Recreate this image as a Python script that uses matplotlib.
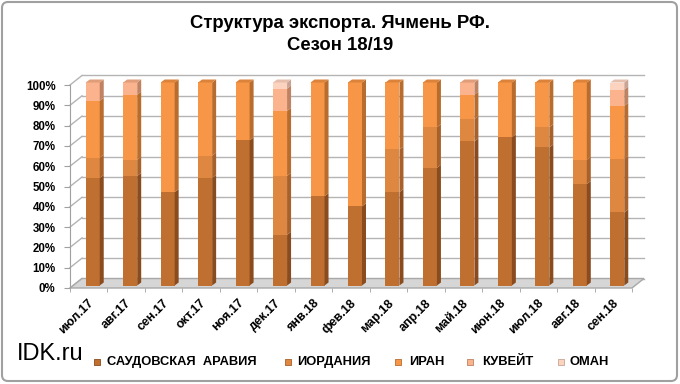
import matplotlib
matplotlib.use("Agg")
import numpy as np
import matplotlib.pyplot as plt
from matplotlib.patches import Polygon, FancyBboxPatch
from matplotlib.colors import to_rgb

plt.rcParams['font.family'] = ['Liberation Sans', 'DejaVu Sans']

months = ["июл.17", "авг.17", "сен.17", "окт.17", "ноя.17", "дек.17", "янв.18", "фев.18",
          "мар.18", "апр.18", "май.18", "июн.18", "июл.18", "авг.18", "сен.18"]
countries = ["САУДОВСКАЯ  АРАВИЯ", "ИОРДАНИЯ", "ИРАН", "КУВЕЙТ", "ОМАН"]
saudi = [53, 54, 46, 53, 71.5, 25, 44, 39, 46, 58, 71, 73, 68, 50, 36]
jordan = [10, 8, 0, 11, 0, 29, 0, 0, 21, 20, 11, 0, 10, 12, 26.5]
iran = [28, 32, 54, 36, 28.5, 32, 56, 61, 33, 22, 12, 27, 22, 38, 26]
kuwait = [9, 6, 0, 0, 0, 11, 0, 0, 0, 0, 6, 0, 0, 0, 8]
oman = [0, 0, 0, 0, 0, 3, 0, 0, 0, 0, 0, 0, 0, 0, 3.5]

front_colors = ["#bf7031", "#de8740", "#f79646", "#fab38c", "#fcd3bf"]
side_colors = ["#8a4c1e", "#a8612b", "#b86c2e", "#bf8262", "#c9a494"]

W, H = 680, 384
fig = plt.figure(figsize=(W / 100, H / 100), dpi=100)

# plot area in pixels (front plane)
x0, x1, y0, y1 = 70, 632, 288, 85
ax = fig.add_axes([x0 / W, 1 - y0 / H, (x1 - x0) / W, (y0 - y1) / H])
ax.set_xlim(-0.5, len(months) - 0.5)
ax.set_ylim(0, 100)
ax.patch.set_visible(False)

kx = (x1 - x0) / len(months)   # px per category
ky = (y0 - y1) / 100           # px per percent


def px(dx, dy):
    return dx / kx, dy / ky


fdx, fdy = px(12, 9.5)     # floor / wall depth
bsx, bsy = px(4, 2.5)      # bar front offset
bdx, bdy = px(4, 3)        # bar depth
bw = 14 / kx

grid_c = "#b4b4b4"
xl, xr = -0.5, len(months) - 0.5
for v in range(0, 101, 10):
    ax.plot([xl + fdx, xr + fdx], [v + fdy, v + fdy], color=grid_c, lw=1, clip_on=False, zorder=1)
    ax.plot([xl, xl + fdx], [v, v + fdy], color=grid_c, lw=1, clip_on=False, zorder=1)

floor = Polygon([(xl, 0), (xr, 0), (xr + fdx, fdy), (xl + fdx, fdy)], closed=True,
                facecolor="#d6d6d6", edgecolor="#a8a8a8", lw=1, clip_on=False, zorder=2)
ax.add_patch(floor)

series = np.array([saudi, jordan, iran, kuwait, oman], dtype=float)
series = series / series.sum(axis=0) * 100
xs = np.arange(len(months))
bottom = np.zeros(len(months))
for k, vals in enumerate(series):
    ax.bar(xs + bsx, vals, bw, bottom=bottom + bsy, color=front_colors[k],
           edgecolor="none", zorder=3, clip_on=False)
    for i in range(len(months)):
        if vals[i] <= 0:
            continue
        b = bottom[i] + bsy
        t = bottom[i] + vals[i] + bsy
        r = xs[i] + bsx + bw / 2
        ax.add_patch(Polygon([(r, b), (r + bdx, b + bdy), (r + bdx, t + bdy), (r, t)],
                             closed=True, facecolor=side_colors[k], edgecolor="none",
                             zorder=3, clip_on=False))
        # top face only on the highest segment
        if series[k + 1:, i].sum() == 0:
            l = xs[i] + bsx - bw / 2
            top_c = 0.55 * np.array(to_rgb(front_colors[k])) + 0.45 * np.array(to_rgb(side_colors[k]))
            ax.add_patch(Polygon([(l, t), (r, t), (r + bdx, t + bdy), (l + bdx, t + bdy)],
                                 closed=True, facecolor=top_c, edgecolor="none",
                                 zorder=3, clip_on=False))
    bottom += vals

for s in ["top", "right", "bottom"]:
    ax.spines[s].set_visible(False)
ax.spines["left"].set_color("#a0a0a0")

ax.set_yticks(range(0, 101, 10))
ax.set_yticklabels([f"{v}%" for v in range(0, 101, 10)], fontsize=8.3, fontweight="bold")
ax.tick_params(axis="y", length=4, color="#a0a0a0", pad=6.5)

# labels sit slightly off the category centre, as in the 3D layout
ax.set_xticks(xs - 1 / kx)
ax.set_xticklabels(months, rotation=45, ha="right", rotation_mode="anchor",
                   fontsize=9, fontweight="bold")
ax.set_xticks(np.arange(-0.5, len(months), 1), minor=True)
ax.tick_params(axis="x", which="major", length=0, pad=6.5)
ax.tick_params(axis="x", which="minor", length=3, color="#a0a0a0")

# overlay in pixel coordinates for title, legend and frame
ov = fig.add_axes([0, 0, 1, 1], zorder=-1)
ov.set_xlim(0, W)
ov.set_ylim(H, 0)
ov.axis("off")
ov.add_patch(FancyBboxPatch((2, 2), W - 5, H - 5, boxstyle="round,pad=0,rounding_size=6",
                            facecolor="white", edgecolor="#a0a0a0", lw=1.5))

ov.text(340, 23, "Структура экспорта. Ячмень РФ.", ha="center", va="center",
        fontsize=13.3, fontweight="bold")
ov.text(340, 45, "Сезон 18/19", ha="center", va="center", fontsize=13.3, fontweight="bold")

ov.text(17, 354, "IDK.ru", ha="left", va="center", fontsize=17)

marker_x = [97, 288, 398, 470, 561]
label_x = [107, 297, 409, 482, 569]
for k, name in enumerate(countries):
    ov.scatter([marker_x[k]], [362], marker="s", s=22, color=front_colors[k],
               edgecolor=side_colors[k], lw=0.6)
    ov.text(label_x[k], 362, name, ha="left", va="center", fontsize=9.3, fontweight="bold")

fig.savefig("out.png", dpi=100)
